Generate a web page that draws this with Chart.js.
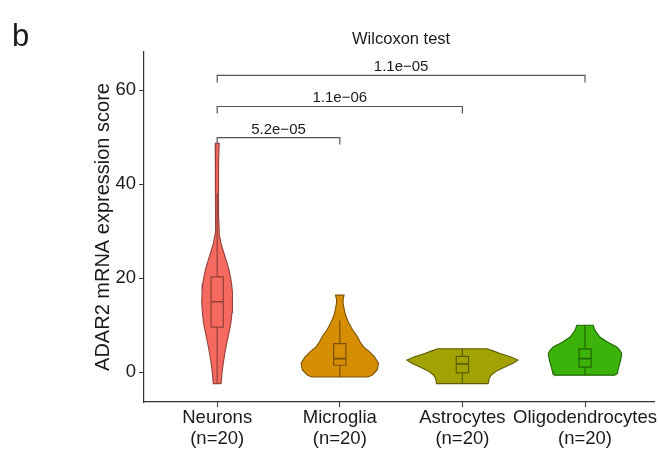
<!DOCTYPE html>
<html>
<head>
<meta charset="utf-8">
<script src="https://cdn.jsdelivr.net/npm/chart.js@4.4.1/dist/chart.umd.min.js"></script>
<style>
    html, body { margin: 0; padding: 0; background: #ffffff; }
    canvas { display: block; }
</style>
</head>
<body>
<canvas id="violinChart" width="658" height="449"></canvas>
<script>
// categories
var groups = ['Neurons', 'Microglia', 'Astrocytes', 'Oligodendrocytes'];
var groupN = [20, 20, 20, 20];

// violin outlines: expression levels and half-width of the density at that level
var neuronsLevels = [-2.4, 0, 1.9, 4, 6.1, 8.3, 10.4, 12.7, 15, 17, 18.9, 20.3, 21.7, 23.1, 24.5, 26, 27.4, 28.7, 30, 33, 38, 44, 48.7];
var neuronsDensity = [0.032, 0.040, 0.049, 0.062, 0.077, 0.095, 0.111, 0.121, 0.126, 0.123, 0.117, 0.108, 0.097, 0.082, 0.065, 0.047, 0.031, 0.022, 0.017, 0.012, 0.010, 0.012, 0.016];

var microgliaLevels = [-1.0, -0.6, 0.5, 1.9, 3.3, 4.3, 5.4, 6.5, 7.6, 9.0, 10.4, 11.5, 12.5, 13.6, 14.6, 15.5, 16.4];
var microgliaDensity = [0.229, 0.265, 0.305, 0.316, 0.283, 0.245, 0.194, 0.165, 0.143, 0.105, 0.075, 0.057, 0.043, 0.035, 0.027, 0.027, 0.035];

var astrocytesLevels = [-2.4, -1.3, -0.6, 0.2, 0.8, 1.9, 2.6, 3.3, 4.0, 4.5, 5.0];
var astrocytesDensity = [0.211, 0.218, 0.235, 0.275, 0.320, 0.413, 0.453, 0.390, 0.308, 0.255, 0.202];

var oligoLevels = [-0.6, -0.2, 0.3, 1.1, 2.6, 4.0, 4.7, 5.4, 6.4, 7.5, 8.9, 10.0];
var oligoDensity = [0.245, 0.262, 0.267, 0.275, 0.291, 0.300, 0.283, 0.259, 0.186, 0.121, 0.081, 0.067];

// box plot statistics
var boxMin = [-2.3, -1.0, -2.4, -0.6];
var boxQ1 = [9.6, 1.5, -0.1, 1.1];
var boxMedian = [15.0, 2.9, 1.8, 2.9];
var boxQ3 = [20.3, 6.1, 3.4, 5.0];
var boxMax = [38.0, 11.0, 5.0, 10.0];

// Wilcoxon comparisons
var pairs = [[1, 2], [1, 3], [1, 4]];
var pValues = ['5.2e\u221205', '1.1e\u221206', '1.1e\u221205'];
var bracketLevels = [49.9, 56.5, 63.1];

// y ticks
var yTicks = [0, 20, 40, 60];

var fillColors = ['#F6695F', '#D68E04', '#A2A302', '#3CB30A'];
var lineColors = ['#93403A', '#7A5100', '#5C5D00', '#1F6600'];
var FONT = "'Liberation Sans', Arial, Helvetica, sans-serif";

var violins = [
    { levels: neuronsLevels, density: neuronsDensity },
    { levels: microgliaLevels, density: microgliaDensity },
    { levels: astrocytesLevels, density: astrocytesDensity },
    { levels: oligoLevels, density: oligoDensity }
];

function violinPolygon(center, levels, density) {
    var pts = [];
    for (let i = 0; i < levels.length; i++) {
        pts.push({ x: center + density[i], y: levels[i] });
    }
    for (let i = levels.length - 1; i >= 0; i--) {
        pts.push({ x: center - density[i], y: levels[i] });
    }
    pts.push({ x: pts[0].x, y: pts[0].y });
    return pts;
}

var BOX_HALF = 0.05;
var BRACKET_DROP = 1.5;

var datasets = [];

violins.forEach((v, i) => {
    var c = i + 1;
    datasets.push({
        data: violinPolygon(c, v.levels, v.density),
        showLine: true,
        fill: 'shape',
        backgroundColor: fillColors[i],
        borderColor: lineColors[i],
        borderWidth: 1.1,
        pointRadius: 0,
        tension: 0,
        order: 3
    });
    // box outline with whiskers
    datasets.push({
        data: [
            { x: c, y: boxMin[i] }, { x: c, y: boxQ1[i] },
            { x: c - BOX_HALF, y: boxQ1[i] }, { x: c - BOX_HALF, y: boxQ3[i] },
            { x: c, y: boxQ3[i] }, { x: c, y: boxMax[i] }, { x: c, y: boxQ3[i] },
            { x: c + BOX_HALF, y: boxQ3[i] }, { x: c + BOX_HALF, y: boxQ1[i] },
            { x: c, y: boxQ1[i] }
        ],
        showLine: true,
        fill: false,
        borderColor: lineColors[i],
        borderWidth: 1.2,
        pointRadius: 0,
        tension: 0,
        order: 2
    });
    // median
    datasets.push({
        data: [{ x: c - BOX_HALF, y: boxMedian[i] }, { x: c + BOX_HALF, y: boxMedian[i] }],
        showLine: true,
        fill: false,
        borderColor: lineColors[i],
        borderWidth: 1.6,
        pointRadius: 0,
        order: 2
    });
});

pairs.forEach((p, j) => {
    var yb = bracketLevels[j];
    datasets.push({
        data: [
            { x: p[0], y: yb - BRACKET_DROP }, { x: p[0], y: yb },
            { x: p[1], y: yb }, { x: p[1], y: yb - BRACKET_DROP }
        ],
        showLine: true,
        fill: false,
        borderColor: '#555555',
        borderWidth: 1.2,
        pointRadius: 0,
        order: 1
    });
});

// p-value labels, test name and panel letter
var annotationPlugin = {
    id: 'annotations',
    afterDatasetsDraw(chart) {
        var ctx = chart.ctx;
        var xs = chart.scales.x, ys = chart.scales.y;
        ctx.save();
        ctx.fillStyle = '#1a1a1a';
        ctx.textAlign = 'center';
        ctx.textBaseline = 'alphabetic';
        ctx.font = '15px ' + FONT;
        pairs.forEach((p, j) => {
            var px = xs.getPixelForValue((p[0] + p[1]) / 2);
            var py = ys.getPixelForValue(bracketLevels[j]) - 4;
            ctx.fillText(pValues[j], px, py);
        });
        ctx.font = '16.5px ' + FONT;
        ctx.fillText('Wilcoxon test', xs.getPixelForValue(2.5), chart.chartArea.top - 8);
        ctx.textAlign = 'left';
        ctx.font = '31px ' + FONT;
        ctx.fillText('b', 12, 46);
        ctx.restore();
    }
};

var chart = new Chart(document.getElementById('violinChart'), {
    type: 'scatter',
    data: { datasets: datasets },
    options: {
        responsive: false,
        animation: false,
        layout: { padding: { left: 91, top: 52, right: 0, bottom: 0 } },
        plugins: {
            legend: { display: false },
            tooltip: { enabled: false }
        },
        scales: {
            x: {
                type: 'linear',
                min: 0.403,
                max: 4.564,
                afterBuildTicks: (scale) => { scale.ticks = groups.map((g, i) => ({ value: i + 1 })); },
                afterFit: (scale) => { scale.height = 47; },
                grid: { display: true, drawOnChartArea: false, drawTicks: true, tickLength: 5, color: '#333333' },
                border: { display: true, color: '#333333', width: 1.2 },
                ticks: {
                    color: '#1a1a1a',
                    padding: 1,
                    maxRotation: 0,
                    autoSkip: false,
                    font: { family: FONT, size: 18.5, lineHeight: 1.1 },
                    callback: (v) => [groups[v - 1], '(n=' + groupN[v - 1] + ')']
                }
            },
            y: {
                type: 'linear',
                min: -6.31,
                max: 68.08,
                afterBuildTicks: (scale) => { scale.ticks = yTicks.map((t) => ({ value: t })); },
                afterFit: (scale) => { scale.width = 53; },
                grid: { display: true, drawOnChartArea: false, drawTicks: true, tickLength: 5, color: '#333333' },
                border: { display: true, color: '#333333', width: 1.2 },
                ticks: {
                    color: '#1a1a1a',
                    padding: 3,
                    font: { family: FONT, size: 18.5 }
                },
                title: {
                    display: true,
                    text: 'ADAR2 mRNA expression score',
                    color: '#1a1a1a',
                    padding: { top: 0, bottom: 0 },
                    font: { family: FONT, size: 20 }
                }
            }
        }
    },
    plugins: [annotationPlugin]
});
</script>
</body>
</html>
